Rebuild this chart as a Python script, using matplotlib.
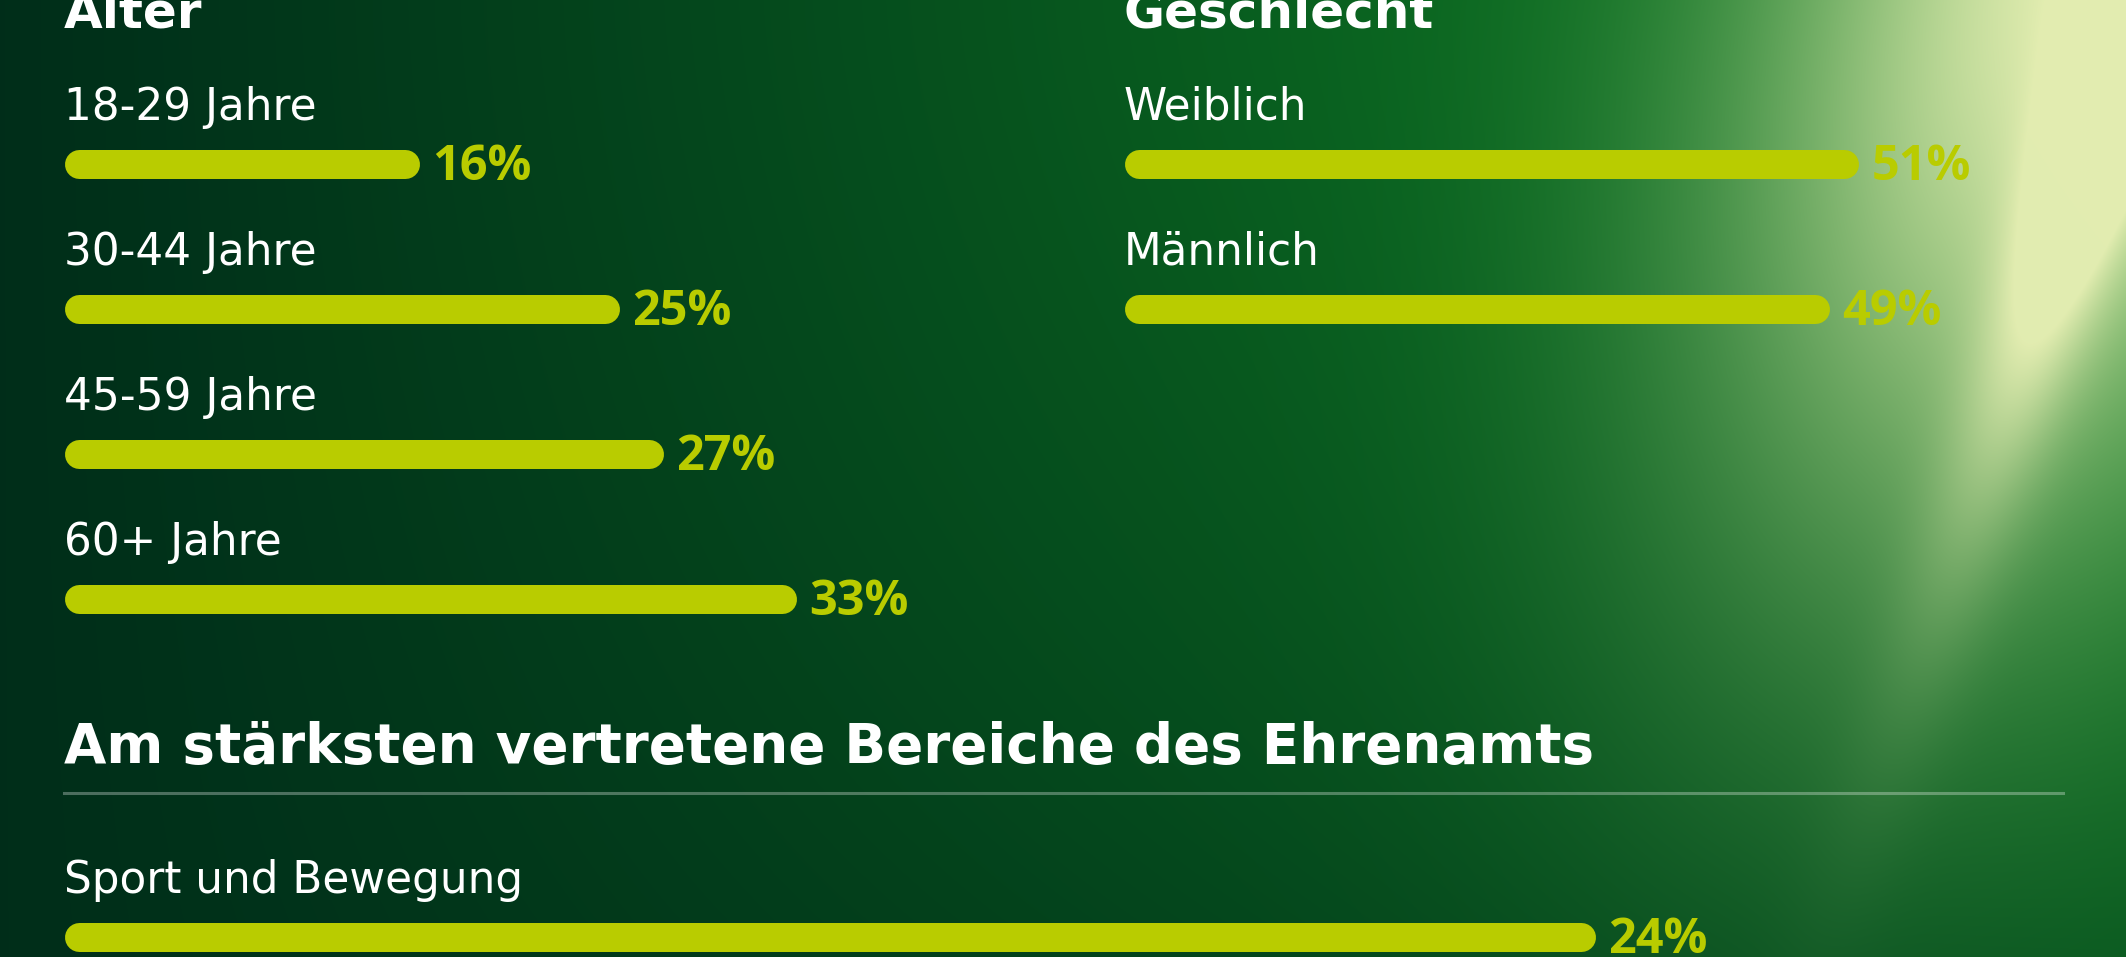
import numpy as np
import matplotlib.pyplot as plt

W, H = 2126, 957
DPI = 100

age_labels = ['18-29 Jahre', '30-44 Jahre', '45-59 Jahre', '60+ Jahre']
age_values = [16, 25, 27, 33]
gender_labels = ['Weiblich', 'Männlich']
gender_values = [51, 49]
area_labels = ['Sport und Bewegung']
area_values = [24]

BAR = '#b9cc00'
ROW = 145      # px between rows
BAR_H = 29     # px bar thickness
PT = 72 / DPI  # px -> points

plt.rcParams['font.family'] = ['DejaVu Sans']

fig = plt.figure(figsize=(W / DPI, H / DPI), dpi=DPI)

# background: dark-to-bright green gradient with a light beam top right
bg = fig.add_axes([0, 0, 1, 1])
yy, xx = np.mgrid[0:H, 0:W].astype(float)
xn, yn = xx / W, yy / H
t = np.clip(xn ** 1.1 * (1 - 0.5 * yn ** 1.5), 0, 1)[..., None]
c_dark = np.array([0.0, 0.18, 0.10])
c_bright = np.array([0.06, 0.52, 0.14])
img = c_dark * (1 - t) + c_bright * t

sx, sy = 2158.0, -34.0
u = np.array([-176.0, 519.0])
u /= np.linalg.norm(u)
s = np.maximum((xx - sx) * u[0] + (yy - sy) * u[1], 0)
d = (xx - sx) * u[1] - (yy - sy) * u[0]
haze = 0.95 * np.exp(-(s / 600) ** 2) * np.exp(-((d + 60) / 300) ** 2)
streak = 0.6 * np.exp(-(s / 560) ** 2) * np.exp(-(d / 55) ** 2)
a = np.clip(haze + streak, 0, 0.95)[..., None]
glow = np.array([0.93, 0.95, 0.72])
img = img * (1 - a) + glow * a

bg.imshow(img, extent=(0, W, H, 0), aspect='auto', interpolation='bilinear')
bg.set_xlim(0, W)
bg.set_ylim(H, 0)
bg.axis('off')

# headings and divider
head = dict(color='white', fontweight='bold', va='baseline')
bg.text(64, 28, 'Alter', fontsize=36, **head)
bg.text(1124, 28, 'Geschlecht', fontsize=36, **head)
bg.text(64, 763, 'Am stärksten vertretene Bereiche des Ehrenamts', fontsize=39.4, **head)
bg.plot([64, 2063], [793, 793], color='white', alpha=0.3, lw=2.2)


def section(x0, ppu, y0, labels, values):
    # x0: left edge (px), ppu: px per percent, y0: centre of first bar (px)
    ax = fig.add_axes([x0 / W, 0, (W - x0) / W, 1])
    ax.set_xlim(0, (W - x0) / ppu)
    ax.set_ylim((H - y0) / ROW, -y0 / ROW)
    ax.axis('off')
    r = BAR_H / 2 / ppu
    for i, (lab, v) in enumerate(zip(labels, values)):
        ax.plot([r, v - r], [i, i], color=BAR, lw=BAR_H * PT,
                solid_capstyle='round', clip_on=False)
        ax.annotate(lab, (0, i), xytext=(0, 44 * PT), textcoords='offset points',
                    color='white', fontsize=31.5, va='baseline', ha='left')
        ax.annotate(f'{v}%', (v, i), xytext=(13 * PT, -16 * PT),
                    textcoords='offset points', color=BAR, fontsize=35,
                    fontweight='bold', va='baseline', ha='left',
                    family='Open Sans')
    return ax


section(64, 22.2, 164, age_labels, age_values)
section(1124, 14.4, 164, gender_labels, gender_values)
section(64, 63.8, 937, area_labels, area_values)

fig.savefig('out.png', dpi=DPI)
